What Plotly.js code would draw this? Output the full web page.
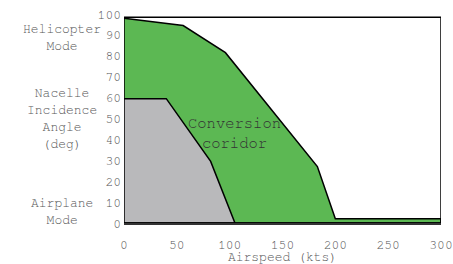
<!DOCTYPE html>
<html><head><meta charset="utf-8">
<script src="https://cdn.plot.ly/plotly-3.0.1.min.js"></script>
<style>html,body{margin:0;padding:0;background:#fff}</style>
</head><body><div id="chart" style="width:453px;height:264px"></div>
<script>
// Conversion corridor (upper boundary, green)
const corridorX = [0, 56, 96, 183, 200, 300, 300, 0];
const corridorY = [98, 94.5, 81.5, 27, 2, 2, 0, 0];
// Lower boundary region (gray)
const lowerX = [0, 40, 82, 105, 0];
const lowerY = [59.5, 59.5, 29.5, 0, 0];
const xTicks = [0, 50, 100, 150, 200, 250, 300];
const yTicks = [0, 10, 20, 30, 40, 50, 60, 70, 80, 90, 100];
const sideLabels = ["Helicopter<br>Mode", "Nacelle<br>Incidence<br>Angle<br>(deg)", "Airplane<br>Mode"];
const sideLabelY = [88.5, 50, 5.5];
const regionLabel = "Conversion<br>coridor";

const fam = "'Nimbus Mono PS', 'Nimbus Mono L', FreeMono, 'Courier New', Courier, 'Liberation Mono', monospace";
const font = {family: fam, size: 13, color: "#555"};
const bigFont = {family: fam, size: 15.5, color: "#333"};

const traces = [
  {x: corridorX, y: corridorY, type: "scatter", mode: "lines", fill: "toself",
   fillcolor: "#5cb853", line: {color: "#000", width: 1.5}, hoverinfo: "skip"},
  {x: lowerX, y: lowerY, type: "scatter", mode: "lines", fill: "toself",
   fillcolor: "#b9b9bb", line: {color: "#000", width: 1.5}, hoverinfo: "skip"}
];

const annotations = sideLabels.map((t, i) => ({
  text: t, xref: "paper", yref: "y", x: -0.195, y: sideLabelY[i],
  xanchor: "center", yanchor: "middle", showarrow: false, font: font, align: "center"
}));
annotations.push({text: regionLabel, xref: "x", yref: "y", x: 105, y: 42.6,
  xanchor: "center", yanchor: "middle", showarrow: false, font: bigFont, align: "center"});

const layout = {
  width: 453, height: 264,
  margin: {l: 124, r: 12, t: 14, b: 41},
  paper_bgcolor: "#fff", plot_bgcolor: "#fff",
  showlegend: false,
  font: font,
  xaxis: {range: [0, 300], tickvals: xTicks, ticks: "", showgrid: false, zeroline: false,
    showline: true, linecolor: "#333", linewidth: 2, ticklabelstandoff: 8,
    title: {text: "Airspeed (kts)", font: font, standoff: 2}, tickfont: font},
  yaxis: {range: [0, 100], tickvals: yTicks, ticks: "", showgrid: false, zeroline: false,
    showline: false, tickfont: font, ticklabelstandoff: 2},
  shapes: [{type: "rect", xref: "x", yref: "y", x0: 0, x1: 300, y0: 0, y1: 98.5,
    line: {color: "#000", width: 1.5}, fillcolor: "rgba(0,0,0,0)", layer: "above"}],
  annotations: annotations
};
Plotly.newPlot("chart", traces, layout, {displayModeBar: false, staticPlot: true});
</script></body></html>
